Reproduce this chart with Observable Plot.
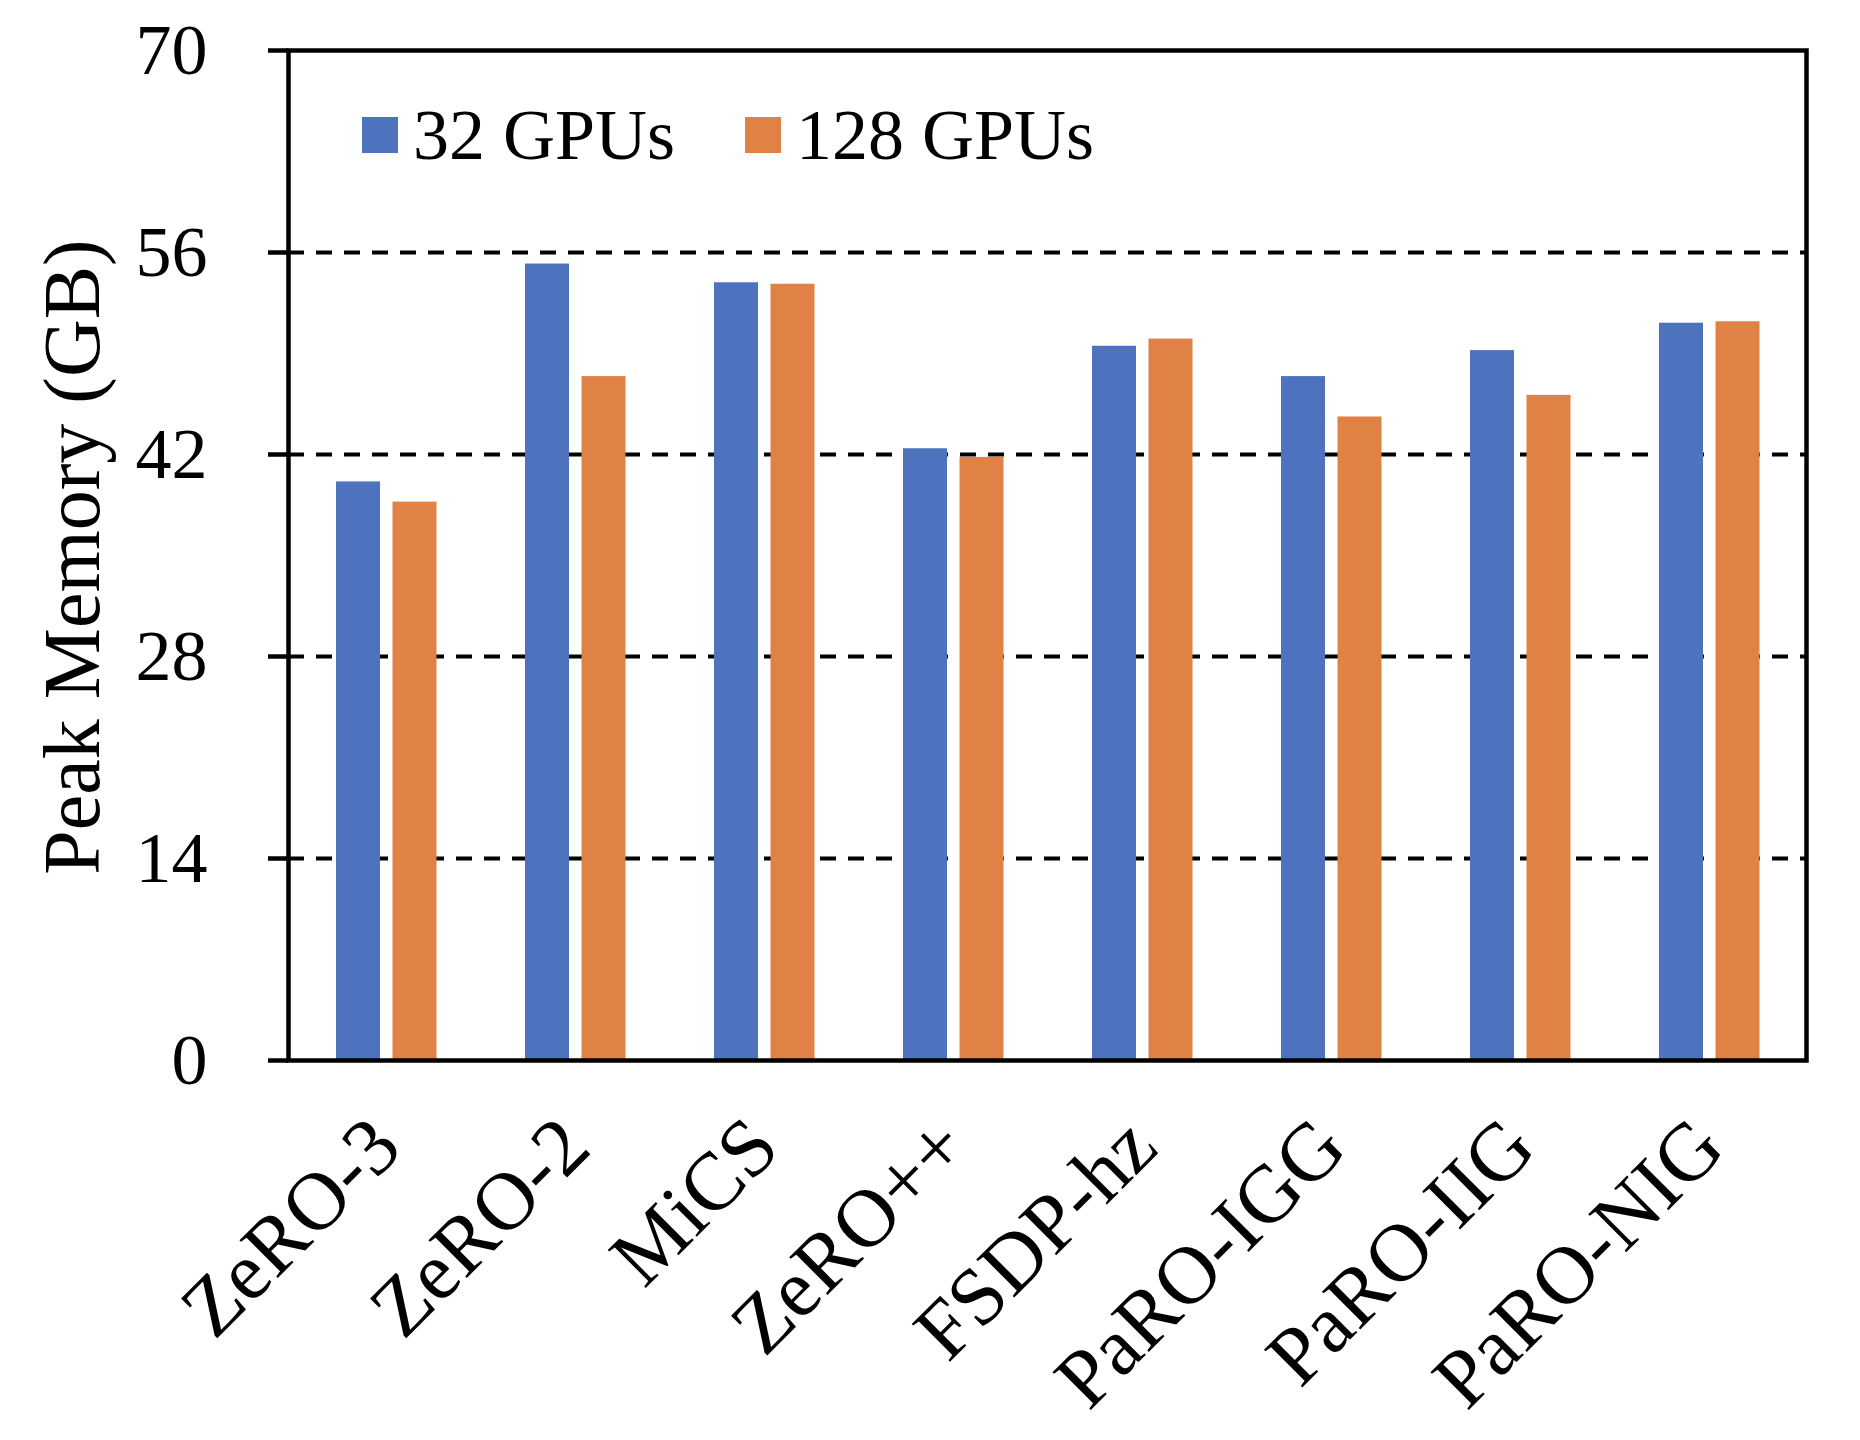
<!DOCTYPE html>
<html>
<head>
<meta charset="utf-8">
<script src="https://cdn.jsdelivr.net/npm/d3@7"></script>
<script src="https://cdn.jsdelivr.net/npm/@observablehq/plot@0.6"></script>
<style>
  html, body { margin: 0; padding: 0; background: #fff; }
  #wrap { position: relative; width: 1860px; height: 1440px; overflow: hidden; }
  #legend { position: absolute; left: 362px; top: 99px; display: flex; align-items: center;
            font-family: "Liberation Serif", "Times New Roman", serif; font-size: 72px; color: #000; line-height: 1; }
  #legend .item { display: flex; align-items: center; margin-right: 70px; }
  #legend .sw { width: 36px; height: 36px; margin-right: 15px; }
  #ytitle { position: absolute; left: 72px; top: 557px; transform: translate(-50%, -50%) rotate(-90deg);
            white-space: nowrap; font-family: "Liberation Serif", "Times New Roman", serif; font-size: 80px;
            line-height: 1; color: #000; }
</style>
</head>
<body>
<div id="wrap"></div>
<script>
const categories = ["ZeRO-3", "ZeRO-2", "MiCS", "ZeRO++", "FSDP-hz", "PaRO-IGG", "PaRO-IIG", "PaRO-NIG"];
const series = ["32 GPUs", "128 GPUs"];
const gpus32 = [40.1, 55.2, 53.9, 42.4, 49.5, 47.4, 49.2, 51.1];
const gpus128 = [38.7, 47.4, 53.8, 41.8, 50.0, 44.6, 46.1, 51.2];
const yTicks = [0, 14, 28, 42, 56, 70];
const colors = ["#4E73BE", "#E08245"];
const yTitle = "Peak Memory (GB)";

const rows32 = categories.map((c, i) => ({category: c, series: series[0], value: gpus32[i]}));
const rows128 = categories.map((c, i) => ({category: c, series: series[1], value: gpus128[i]}));
const gridValues = yTicks.filter(t => t > yTicks[0] && t < yTicks[yTicks.length - 1]);

const font = "'Liberation Serif', 'Times New Roman', serif";

const chart = Plot.plot({
  width: 1860,
  height: 1440,
  marginTop: 50,
  marginBottom: 380,
  marginLeft: 288,
  marginRight: 54,
  style: {fontFamily: font, fontSize: "72px", color: "#000", background: "#fff"},
  x: {domain: categories, padding: 0, label: null},
  y: {domain: [yTicks[0], yTicks[yTicks.length - 1]], label: null},
  color: {domain: series, range: colors},
  marks: [
    Plot.ruleY(gridValues, {stroke: "#000", strokeWidth: 4, strokeDasharray: "16,12"}),
    Plot.barY(rows32, {x: "category", y: "value", fill: "series", insetLeft: 45, insetRight: 100}),
    Plot.barY(rows128, {x: "category", y: "value", fill: "series", insetLeft: 101.5, insetRight: 43.5}),
    Plot.frame({stroke: "#000", strokeWidth: 4.5}),
    Plot.axisY({ticks: yTicks, tickSize: 20, tickPadding: 61, strokeWidth: 4.5, fontSize: 72, label: null}),
    Plot.axisX({tickSize: 0, tickRotate: -45, textAnchor: "end", fontSize: 82, tickPadding: 72, dx: 0, label: null})
  ]
});

const wrap = document.getElementById("wrap");
wrap.appendChild(chart);

const legend = document.createElement("div");
legend.id = "legend";
series.forEach((s, i) => {
  const item = document.createElement("div");
  item.className = "item";
  const sw = document.createElement("div");
  sw.className = "sw";
  sw.style.background = colors[i];
  const label = document.createElement("span");
  label.textContent = s;
  item.appendChild(sw);
  item.appendChild(label);
  legend.appendChild(item);
});
wrap.appendChild(legend);

const title = document.createElement("div");
title.id = "ytitle";
title.textContent = yTitle;
wrap.appendChild(title);
</script>
</body>
</html>
